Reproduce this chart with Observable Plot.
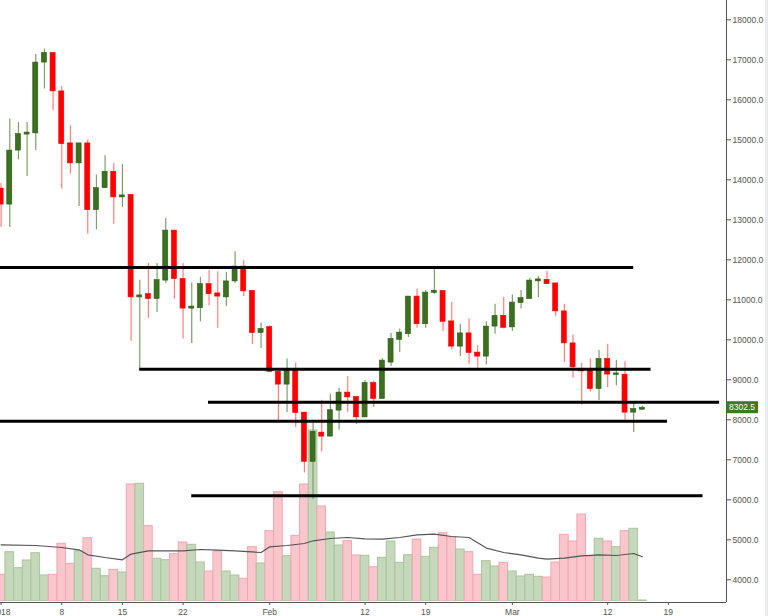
<!DOCTYPE html>
<html><head><meta charset="utf-8">
<script src="https://cdn.jsdelivr.net/npm/d3@7"></script>
<script src="https://cdn.jsdelivr.net/npm/@observablehq/plot@0.6"></script>
<style>
html,body{margin:0;padding:0;background:#fff;}
#wrap{position:relative;width:768px;height:616px;overflow:hidden;background:#fff;}
#wrap svg{position:absolute;left:0;top:0;}
#strip{position:absolute;left:765px;top:0;width:3px;height:616px;background:#ececec;}
</style></head><body><div id="wrap"><div id="strip"></div></div>
<script>
const dates = ["2018-01-01","2018-01-02","2018-01-03","2018-01-04","2018-01-05","2018-01-06","2018-01-07","2018-01-08","2018-01-09","2018-01-10",
"2018-01-11","2018-01-12","2018-01-13","2018-01-14","2018-01-15","2018-01-16","2018-01-17","2018-01-18","2018-01-19","2018-01-20",
"2018-01-21","2018-01-22","2018-01-23","2018-01-24","2018-01-25","2018-01-26","2018-01-27","2018-01-28","2018-01-29","2018-01-30",
"2018-01-31","2018-02-01","2018-02-02","2018-02-03","2018-02-04","2018-02-05","2018-02-06","2018-02-07","2018-02-08","2018-02-09",
"2018-02-10","2018-02-11","2018-02-12","2018-02-13","2018-02-14","2018-02-15","2018-02-16","2018-02-17","2018-02-18","2018-02-19",
"2018-02-20","2018-02-21","2018-02-22","2018-02-23","2018-02-24","2018-02-25","2018-02-26","2018-02-27","2018-02-28","2018-03-01",
"2018-03-02","2018-03-03","2018-03-04","2018-03-05","2018-03-06","2018-03-07","2018-03-08","2018-03-09","2018-03-10","2018-03-11",
"2018-03-12","2018-03-13","2018-03-14","2018-03-15","2018-03-16"];
const open = [13780,13380,14730,15130,15160,16930,17170,16210,14910,14410,
14910,13240,13790,14200,13560,13620,11060,11140,11020,11480,
12730,11520,10780,10790,11390,11160,11060,11460,11830,11220,
10170,10320,9200,8880,9230,8180,6950,7680,7580,8230,
8680,8570,8060,8920,8520,9430,10000,10140,11080,10390,
11170,11220,10460,9830,10160,9680,9580,10330,10600,10310,
10920,11020,11460,11500,11410,10710,9910,9270,9270,8770,
9520,9120,9130,8180,8252];
const high = [13910,15520,15430,15430,17130,17270,17170,16330,15350,14910,
14990,14120,14600,14410,14380,13620,11490,11910,11910,13030,
12730,11910,11420,11560,11740,11700,11680,12200,11980,11220,
10420,10350,9200,9520,9420,8180,7910,8490,8640,8780,
9080,8570,8980,8970,9530,10160,10270,11080,11270,11230,
11790,11220,10930,10390,10520,9850,10450,10890,11060,11120,
11230,11540,11580,11710,11410,10890,10120,9410,9520,9730,
9890,9490,9450,8410,8340];
const low = [12810,12810,14500,14080,14730,16270,15730,13770,14140,13330,
12640,12750,13790,12890,13310,9960,9240,10530,10680,11410,
11020,10020,9910,10450,10850,10290,10830,11410,11080,9880,
9780,9180,7950,8180,7810,6670,6000,7200,7580,7740,
8180,7880,8060,8310,8520,9330,9680,10060,10290,10290,
11140,10210,9750,9580,9390,9290,9370,10140,10270,10210,
10770,11020,11060,11390,10580,9430,9040,8370,8700,8480,
8810,8850,7980,7680,8240];
const close = [13380,14730,15140,15180,16930,17170,16210,14890,14410,14910,
13240,13790,14200,13560,13610,11060,11110,11020,11490,12730,
11520,10780,10830,11390,11140,11080,11460,11830,11210,10170,
10270,9200,8880,9230,8170,6950,7700,7580,8240,8680,
8560,8060,8920,8520,9480,10020,10180,11080,10390,11180,
11225,10450,9830,10160,9670,9580,10330,10600,10300,10930,
11040,11480,11510,11390,10710,9910,9310,9210,8770,9520,
9130,9160,8180,8270,8302.5];
const volume = [26.7,49.3,33.3,41,48.3,26,26.7,57.7,37.7,50.3,
63.3,32.7,25.3,31.7,29,117,117.7,75.3,42.7,41.3,
47.3,59,56.7,39,30,50,30,26,22.7,54.3,
38,70.3,109.3,45.3,65.7,117,171,95,69,56,
60.3,46,45.7,34.3,43.7,60,38.7,46.3,62,44.7,
53.7,68.3,64.3,52,49.3,26.7,40.3,35,38.7,30,
25,26.7,24.7,24,39,66.7,60,87,45,62.7,
60,54.3,70.3,72.7,1];
const maDates = ["2018-01-01","2018-01-05","2018-01-08","2018-01-10","2018-01-11","2018-01-13","2018-01-15","2018-01-16","2018-01-18","2018-01-22",
"2018-01-24","2018-01-26","2018-01-28","2018-01-31","2018-02-01","2018-02-03","2018-02-05","2018-02-06","2018-02-08","2018-02-10",
"2018-02-12","2018-02-14","2018-02-16","2018-02-18","2018-02-20","2018-02-22","2018-02-24","2018-02-26","2018-02-28","2018-03-02",
"2018-03-04","2018-03-05","2018-03-07","2018-03-09","2018-03-11","2018-03-13","2018-03-15","2018-03-16"];
const maValues = [56.7,56,54,51.7,46.7,44,41.7,47.4,50.7,50.7,
52,51.4,50.7,49,54.7,56,58,60.7,63,64,
62.7,62.4,64,66.7,67.4,65,64,53.4,49,46.7,
43.4,42.4,43.4,45.7,46.7,46,48,44.7];
const levelValues = [11810, 9265, 8440, 7965, 6100];
const levelStarts = ["2017-12-20","2018-01-17","2018-01-24T22:20Z","2017-12-20","2018-01-23"];
const levelEnds = ["2018-03-15","2018-03-17","2018-03-24T22:00Z","2018-03-18T21:40Z","2018-03-23"];
const yTicks = [4000,5000,6000,7000,8000,9000,10000,11000,12000,13000,14000,15000,16000,17000,18000];
const xTickDates = ["2018-01-01","2018-01-08","2018-01-15","2018-01-22","2018-02-01","2018-02-12","2018-02-19","2018-03-01","2018-03-12","2018-03-19"];
const xTickLabels = ["2018","8","15","22","Feb","12","19","Mar","12","19"];
const lastPrice = 8302.5;

const HOUR = 3600e3;
const xDomain = [new Date(Date.UTC(2017,11,31,22,20)), new Date(Date.UTC(2018,2,25,17,2))];
const yDomain = [3433, 18482];

const candles = dates.map((d,i)=>({date:new Date(d), open:open[i], high:high[i], low:low[i], close:close[i], volume:volume[i], up: close[i] >= open[i]}));
const ma = maDates.map((d,i)=>({date:new Date(d), value:maValues[i]}));
const levels = levelValues.map((v,i)=>({value:v, start:new Date(levelStarts[i]), end:new Date(levelEnds[i])}));
const tickMap = new Map(xTickDates.map((d,i)=>[+new Date(d), xTickLabels[i]]));

const font = "'Liberation Sans', Arial, sans-serif";
const common = {width:768, height:616, marginLeft:0, marginRight:42, marginTop:0, marginBottom:14,
  x:{type:"utc", domain:xDomain}};

const volPlot = Plot.plot({
  ...common,
  marginBottom:15,
  style:{background:"transparent"},
  y:{domain:[0,601], axis:null},
  x:{type:"utc", domain:xDomain, axis:null},
  marks:[
    Plot.rect(candles, {x1:d=>new Date(+d.date-12*HOUR), x2:d=>new Date(+d.date+12*HOUR), y1:0, y2:"volume",
      fill:d=>d.up?"#c5d8bb":"#f9c6cc", stroke:d=>d.up?"#a9c59b":"#f2a6b0", strokeWidth:1, clip:true}),
    Plot.line(ma, {x:"date", y:"value", stroke:"#555", strokeWidth:1.2})
  ]
});

const pricePlot = Plot.plot({
  ...common,
  style:{background:"transparent", fontFamily:font, fontSize:"8.5px", color:"#555"},
  y:{domain:yDomain},
  marks:[
    Plot.ruleX(candles, {x:"date", y1:"low", y2:"high", stroke:d=>d.up?"#7f9d70":"#ff8080", strokeWidth:1.2}),
    Plot.rect(candles, {x1:d=>new Date(+d.date-7*HOUR), x2:d=>new Date(+d.date+7*HOUR), y1:"open", y2:"close",
      fill:d=>d.up?"#3b7020":"#ff0000", stroke:d=>d.up?"#2f5c18":"#ff0000", strokeWidth:0.6}),
    Plot.ruleY(levels, {y:"value", x1:"start", x2:"end", stroke:"#000", strokeWidth:3, clip:true}),
    Plot.ruleX([xDomain[1]], {stroke:"#555", strokeWidth:1}),
    Plot.ruleY([yDomain[0]], {stroke:"#555", strokeWidth:1}),
    Plot.axisY({anchor:"right", ticks:yTicks, tickFormat:d=>d.toFixed(1), tickSize:4, tickPadding:2, label:null, color:"#555"}),
    Plot.axisX({ticks:xTickDates.map(d=>new Date(d)), tickFormat:d=>tickMap.get(+d), tickSize:3, tickPadding:3, label:null, color:"#555"})
  ]
});

const wrap = document.getElementById("wrap");
wrap.appendChild(volPlot);
wrap.appendChild(pricePlot);

// last-price tag placed with the plot's own scales
const ys = pricePlot.scale("y"), xs = pricePlot.scale("x");
const ly = ys.apply(lastPrice), lx = xs.apply(xDomain[1]);
const svg = d3.select(pricePlot);
svg.append("rect").attr("x", lx).attr("y", ly-6).attr("width", 32).attr("height", 12).attr("fill", "#3d7a21");
svg.append("text").attr("x", lx+16).attr("y", ly).attr("dy","0.35em").attr("text-anchor","middle")
  .attr("fill","#fff").attr("font-family",font).attr("font-size","8.5px").text(lastPrice.toFixed(1));
</script></body></html>
